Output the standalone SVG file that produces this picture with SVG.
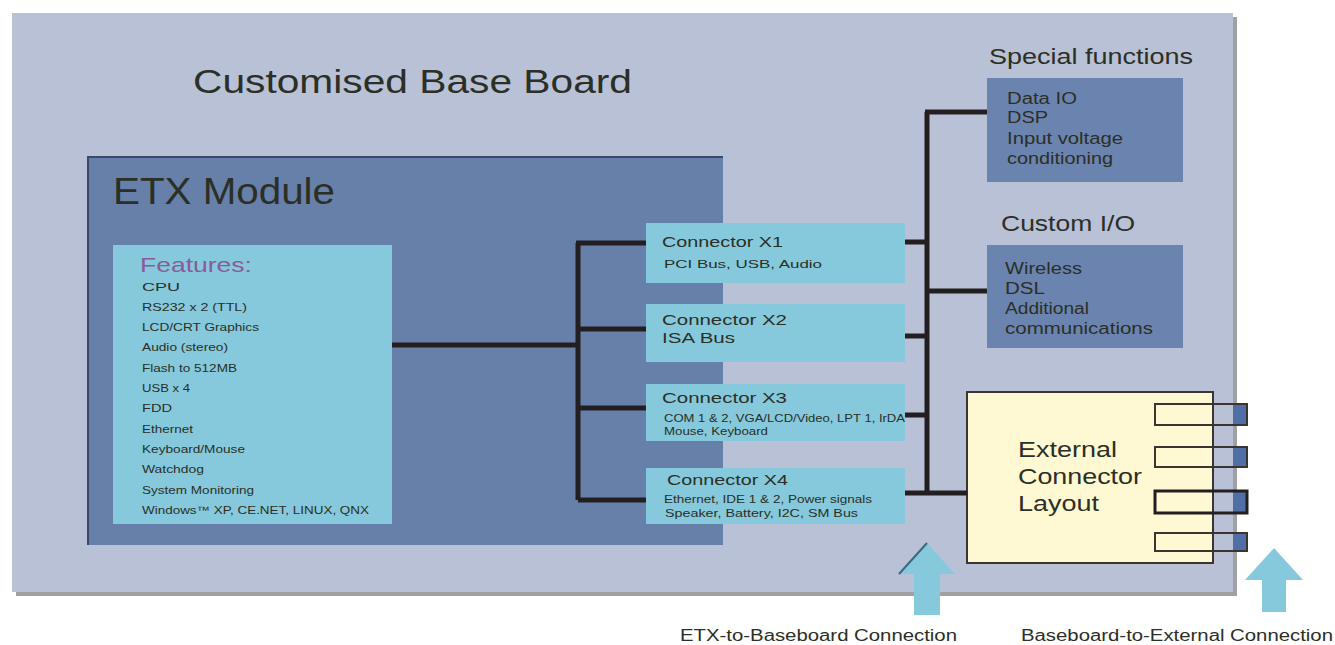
<svg xmlns="http://www.w3.org/2000/svg" width="1335" height="645" viewBox="0 0 1335 645">
<defs>
<style>
text{font-family:"Liberation Sans",Arial,sans-serif;fill:#2b2f25}
.conn{stroke:#231f20;stroke-width:5;fill:none}
.cbox{fill:#86c9dc}
.dbox{fill:#6a84af}
.f{font-size:11px}
.ct{font-size:15px}
.cs{font-size:10.5px}
.sp{font-size:16px}
</style>
</defs>
<rect width="1335" height="645" fill="#ffffff"/>
<g id="baseboard">
<rect x="16" y="17" width="1221" height="579" fill="#8a8a8a" opacity="0.8"/>
<rect x="12" y="13" width="1221" height="579" fill="#b9c1d6"/>
<text x="193" y="93" font-size="34" textLength="439" lengthAdjust="spacingAndGlyphs">Customised Base Board</text>
</g>
<g id="etx">
<rect x="88" y="157" width="635" height="388" fill="#6680aa"/>
<path d="M88 545 V157 H723" fill="none" stroke="#3c4a6a" stroke-width="2"/>
<text x="113" y="204" font-size="36" textLength="222" lengthAdjust="spacingAndGlyphs">ETX Module</text>
</g>
<g id="features">
<rect x="113" y="245" width="279" height="279" class="cbox"/>
<text x="140" y="272" font-size="21" style="fill:#8a5a9a" textLength="112" lengthAdjust="spacingAndGlyphs">Features:</text>
<text class="f" x="142" y="291" textLength="38" lengthAdjust="spacingAndGlyphs">CPU</text>
<text class="f" x="142" y="311" textLength="105" lengthAdjust="spacingAndGlyphs">RS232 x 2 (TTL)</text>
<text class="f" x="142" y="331" textLength="117" lengthAdjust="spacingAndGlyphs">LCD/CRT Graphics</text>
<text class="f" x="142" y="351" textLength="86" lengthAdjust="spacingAndGlyphs">Audio (stereo)</text>
<text class="f" x="142" y="372" textLength="95" lengthAdjust="spacingAndGlyphs">Flash to 512MB</text>
<text class="f" x="142" y="392" textLength="48" lengthAdjust="spacingAndGlyphs">USB x 4</text>
<text class="f" x="142" y="412" textLength="30" lengthAdjust="spacingAndGlyphs">FDD</text>
<text class="f" x="142" y="433" textLength="51" lengthAdjust="spacingAndGlyphs">Ethernet</text>
<text class="f" x="142" y="453" textLength="103" lengthAdjust="spacingAndGlyphs">Keyboard/Mouse</text>
<text class="f" x="142" y="473" textLength="62" lengthAdjust="spacingAndGlyphs">Watchdog</text>
<text class="f" x="142" y="494" textLength="112" lengthAdjust="spacingAndGlyphs">System Monitoring</text>
<text class="f" x="142" y="514" textLength="227" lengthAdjust="spacingAndGlyphs">Windows™ XP, CE.NET, LINUX, QNX</text>
</g>
<g id="x1">
<rect x="646" y="223" width="259" height="60" class="cbox"/>
<text class="ct" x="662" y="247" textLength="121" lengthAdjust="spacingAndGlyphs">Connector X1</text>
<text class="cs" x="664" y="268" textLength="158" lengthAdjust="spacingAndGlyphs">PCI Bus, USB, Audio</text>
</g>
<g id="x2">
<rect x="646" y="304" width="259" height="58" class="cbox"/>
<text class="ct" x="662" y="325" textLength="125" lengthAdjust="spacingAndGlyphs">Connector X2</text>
<text class="ct" x="662" y="343" textLength="73" lengthAdjust="spacingAndGlyphs">ISA Bus</text>
</g>
<g id="x3">
<rect x="646" y="384" width="259" height="57" class="cbox"/>
<text class="ct" x="662" y="403" textLength="125" lengthAdjust="spacingAndGlyphs">Connector X3</text>
<text class="cs" x="664" y="422" textLength="241" lengthAdjust="spacingAndGlyphs">COM 1 &amp; 2, VGA/LCD/Video, LPT 1, IrDA</text>
<text class="cs" x="664" y="435" textLength="104" lengthAdjust="spacingAndGlyphs">Mouse, Keyboard</text>
</g>
<g id="x4">
<rect x="646" y="468" width="259" height="56" class="cbox"/>
<text class="ct" x="667" y="485" textLength="121" lengthAdjust="spacingAndGlyphs">Connector X4</text>
<text class="cs" x="664" y="503" textLength="208" lengthAdjust="spacingAndGlyphs">Ethernet, IDE 1 &amp; 2, Power signals</text>
<text class="cs" x="665" y="517" textLength="193" lengthAdjust="spacingAndGlyphs">Speaker, Battery, I2C, SM Bus</text>
</g>
<g id="special">
<text x="989" y="64" font-size="22" textLength="204" lengthAdjust="spacingAndGlyphs">Special functions</text>
<rect x="987" y="78" width="196" height="104" class="dbox"/>
<text class="sp" x="1007" y="104" textLength="70" lengthAdjust="spacingAndGlyphs">Data IO</text>
<text class="sp" x="1007" y="123" textLength="41" lengthAdjust="spacingAndGlyphs">DSP</text>
<text class="sp" x="1007" y="144" textLength="116" lengthAdjust="spacingAndGlyphs">Input voltage</text>
<text class="sp" x="1007" y="164" textLength="106" lengthAdjust="spacingAndGlyphs">conditioning</text>
</g>
<g id="customio">
<text x="1001" y="231" font-size="22" textLength="134" lengthAdjust="spacingAndGlyphs">Custom I/O</text>
<rect x="987" y="245" width="196" height="103" class="dbox"/>
<text class="sp" x="1005" y="274" textLength="77" lengthAdjust="spacingAndGlyphs">Wireless</text>
<text class="sp" x="1005" y="294" textLength="40" lengthAdjust="spacingAndGlyphs">DSL</text>
<text class="sp" x="1005" y="314" textLength="84" lengthAdjust="spacingAndGlyphs">Additional</text>
<text class="sp" x="1005" y="334" textLength="148" lengthAdjust="spacingAndGlyphs">communications</text>
</g>
<g id="external">
<rect x="967" y="392" width="246" height="171" fill="#fef9d3" stroke="#3a3530" stroke-width="2"/>
<text x="1018" y="457" font-size="22" textLength="99" lengthAdjust="spacingAndGlyphs">External</text>
<text x="1018" y="484" font-size="22" textLength="124" lengthAdjust="spacingAndGlyphs">Connector</text>
<text x="1018" y="511" font-size="22" textLength="81" lengthAdjust="spacingAndGlyphs">Layout</text>
<rect x="1233" y="404" width="14" height="21" fill="#4f6fa6"/>
<rect x="1233" y="447" width="14" height="20" fill="#4f6fa6"/>
<rect x="1233" y="491" width="14" height="22" fill="#4f6fa6"/>
<rect x="1233" y="533" width="14" height="18" fill="#4f6fa6"/>
<rect x="1155" y="404" width="92" height="21" fill="none" stroke="#3a3530" stroke-width="2"/>
<rect x="1155" y="447" width="92" height="20" fill="none" stroke="#3a3530" stroke-width="2"/>
<rect x="1155" y="491" width="92" height="22" fill="none" stroke="#231f20" stroke-width="3"/>
<rect x="1155" y="533" width="92" height="18" fill="none" stroke="#3a3530" stroke-width="2"/>
</g>
<g id="connectors">
<path class="conn" d="M392 345 H578 M578 243 V500 M576 243 H646 M578 329 H646 M578 408 H646 M578 500 H646"/>
<path class="conn" d="M927 112 V493 M925 112 H987 M927 291 H987 M905 242 H927 M905 336 H927 M905 415 H927 M905 493 H967"/>
</g>
<g id="arrow1">
<polygon points="927,543 955,574 940,574 940,615 914,615 914,574 899,574" fill="#86c9dc"/>
<path d="M899 574 L927 543" stroke="#3a6a80" stroke-width="2" fill="none"/>
<text x="680" y="641" font-size="16" textLength="277" lengthAdjust="spacingAndGlyphs">ETX-to-Baseboard Connection</text>
</g>
<g id="arrow2">
<polygon points="1274,548 1303,580 1286,580 1286,612 1262,612 1262,580 1245,580" fill="#86c9dc"/>
<text x="1021" y="641" font-size="16" textLength="312" lengthAdjust="spacingAndGlyphs">Baseboard-to-External Connection</text>
</g>
</svg>
